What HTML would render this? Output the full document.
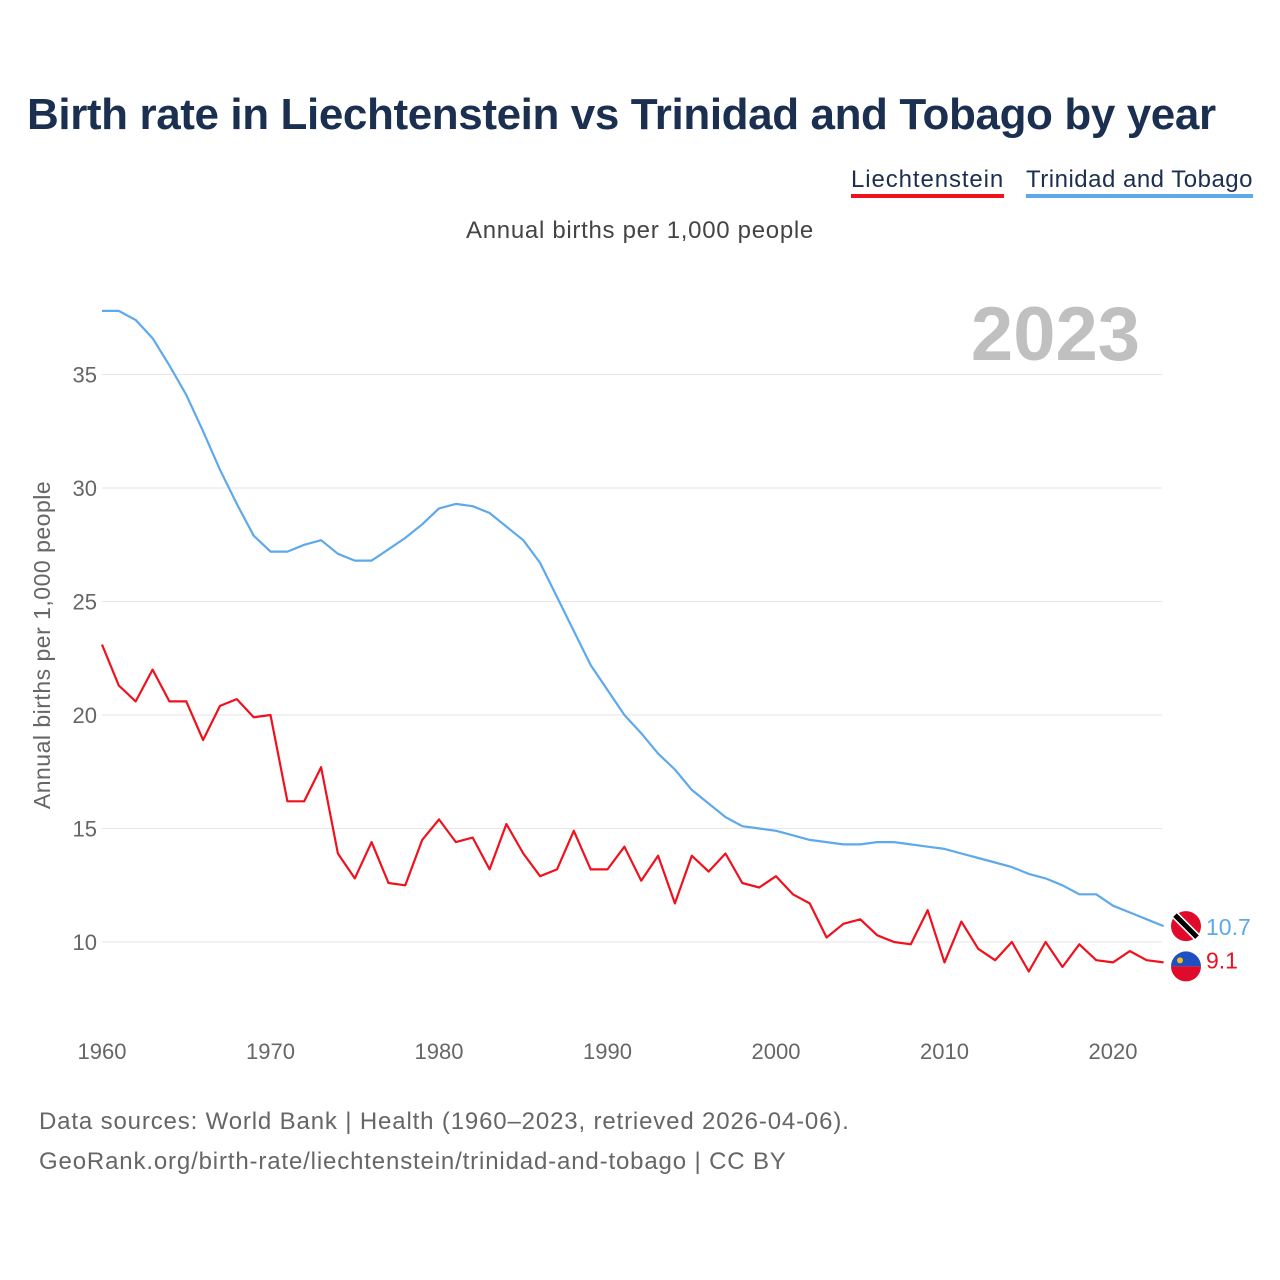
<!DOCTYPE html>
<html><head><meta charset="utf-8"><style>
body{margin:0;background:#fff;font-family:"Liberation Sans",sans-serif;}
#wrap{position:relative;width:1280px;height:1280px;overflow:hidden;}
.t{position:absolute;white-space:nowrap;}
</style></head><body>
<div id="wrap">
<div class="t" style="left:27px;top:90px;font-size:44px;font-weight:bold;color:#1b2f50;letter-spacing:-0.4px">Birth rate in Liechtenstein vs Trinidad and Tobago by year</div>
<div class="t" style="left:851px;top:166px;font-size:24px;color:#1b2f50;border-bottom:4px solid #f0111d;letter-spacing:0.9px">Liechtenstein</div>
<div class="t" style="left:1026px;top:166px;font-size:24px;color:#1b2f50;border-bottom:4px solid #5ea9ec;letter-spacing:0.5px">Trinidad and Tobago</div>
<div class="t" style="left:0;width:1280px;text-align:center;top:217px;font-size:24px;color:#444;letter-spacing:0.7px">Annual births per 1,000 people</div>
<svg id="chart" width="1280" height="1280" style="position:absolute;left:0;top:0"></svg>
<div class="t" style="left:39px;top:1102px;font-size:24px;color:#666;line-height:40px;letter-spacing:0.85px">Data sources: World Bank | Health (1960–2023, retrieved 2026-04-06).<br>GeoRank.org/birth-rate/liechtenstein/trinidad-and-tobago | CC BY</div>
</div>
<script>
const years=[];for(let y=1960;y<=2023;y++)years.push(y);
const trinidad=[37.8,37.8,37.4,36.6,35.4,34.1,32.5,30.8,29.3,27.9,27.2,27.2,27.5,27.7,27.1,26.8,26.8,27.3,27.8,28.4,29.1,29.3,29.2,28.9,28.3,27.7,26.7,25.2,23.7,22.2,21.1,20.0,19.2,18.3,17.6,16.7,16.1,15.5,15.1,15.0,14.9,14.7,14.5,14.4,14.3,14.3,14.4,14.4,14.3,14.2,14.1,13.9,13.7,13.5,13.3,13.0,12.8,12.5,12.1,12.1,11.6,11.3,11.0,10.7];
const liechtenstein=[23.1,21.3,20.6,22.0,20.6,20.6,18.9,20.4,20.7,19.9,20.0,16.2,16.2,17.7,13.9,12.8,14.4,12.6,12.5,14.5,15.4,14.4,14.6,13.2,15.2,13.9,12.9,13.2,14.9,13.2,13.2,14.2,12.7,13.8,11.7,13.8,13.1,13.9,12.6,12.4,12.9,12.1,11.7,10.2,10.8,11.0,10.3,10.0,9.9,11.4,9.1,10.9,9.7,9.2,10.0,8.7,10.0,8.9,9.9,9.2,9.1,9.6,9.2,9.1];
const yTicks=[10,15,20,25,30,35];
const xTicks=[1960,1970,1980,1990,2000,2010,2020];
const X=y=>102+(y-1960)*(1011/60);
const Y=v=>942-(v-10)*22.7;
const svg=document.getElementById('chart');const NS='http://www.w3.org/2000/svg';
function mk(t,a,p){const e=document.createElementNS(NS,t);for(const k in a)e.setAttribute(k,a[k]);(p||svg).appendChild(e);return e;}
yTicks.forEach(v=>{
 const l=mk('line',{x1:102,x2:1162,y1:Y(v),y2:Y(v),stroke:'#e6e6e6','stroke-width':1});
 
 
 const t=mk('text',{x:97,y:Y(v)+8,'text-anchor':'end','font-size':22,fill:'#666','font-family':'Liberation Sans'});t.textContent=v;
 
 
});
xTicks.forEach(v=>{
 const t=mk('text',{x:X(v),y:1059,'text-anchor':'middle','font-size':22,fill:'#666','font-family':'Liberation Sans'});t.textContent=v;
 
 
});
const yt=mk('text',{x:0,y:0,transform:'translate(50,645) rotate(-90)','text-anchor':'middle','font-size':23,fill:'#666','font-family':'Liberation Sans','letter-spacing':0.5});yt.textContent='Annual births per 1,000 people';


const yr=mk('text',{x:1140,y:360,'text-anchor':'end','font-size':76,'font-weight':'bold',fill:'#c0c0c0','font-family':'Liberation Sans'});yr.textContent='2023';


function line(d,c,name){const p=mk('path',{d:d.map((v,i)=>(i?'L':'M')+X(years[i]).toFixed(1)+','+Y(v).toFixed(1)).join(''),fill:'none',stroke:c,'stroke-width':2.2,'stroke-linejoin':'round'});
 
 }
line(trinidad,'#5ea9ec','trinidad-line');line(liechtenstein,'#f0111d','liechtenstein-line');
const tv=trinidad[trinidad.length-1],lv=liechtenstein[liechtenstein.length-1];
const f1=mk('g',{});
mk('circle',{cx:1186,cy:Y(tv),r:15,fill:'#e00b2b'},f1);
mk('line',{x1:1175,y1:Y(tv)-11,x2:1197,y2:Y(tv)+11,stroke:'#fff','stroke-width':8},f1);
mk('line',{x1:1175,y1:Y(tv)-11,x2:1197,y2:Y(tv)+11,stroke:'#000','stroke-width':5},f1);
const f2=mk('g',{});
const cy2=Y(lv)+4;
mk('path',{d:`M1171,${cy2} A15,15 0 0 1 1201,${cy2} Z`,fill:'#1f4fc0'},f2);
mk('path',{d:`M1171,${cy2} A15,15 0 0 0 1201,${cy2} Z`,fill:'#e00b2b'},f2);
mk('circle',{cx:1180,cy:cy2-6,r:3,fill:'#f3c01a'},f2);
const l1=mk('text',{x:1206,y:Y(tv)+9,'font-size':23,fill:'#5ea9ec','font-family':'Liberation Sans'});l1.textContent=tv;


const l2=mk('text',{x:1206,y:Y(lv)+6,'font-size':23,fill:'#f0111d','font-family':'Liberation Sans'});l2.textContent=lv;


</script>
</body></html>
